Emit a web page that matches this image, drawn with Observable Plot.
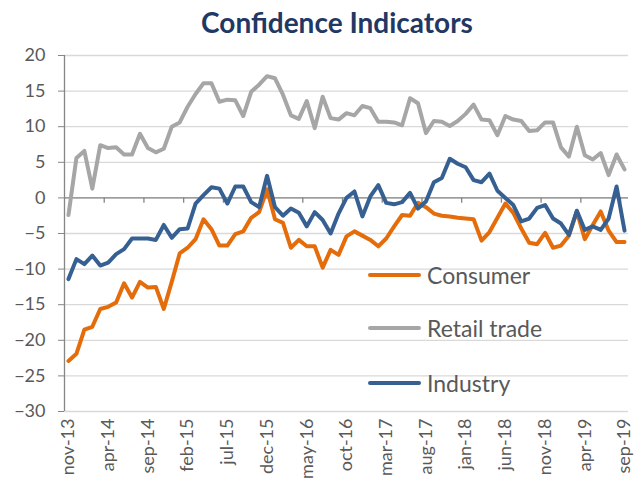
<!DOCTYPE html>
<html>
<head>
<meta charset="utf-8">
<script src="https://cdn.jsdelivr.net/npm/d3@7"></script>
<script src="https://cdn.jsdelivr.net/npm/@observablehq/plot@0.6"></script>
<style>
  html, body { margin: 0; padding: 0; background: #fff; }
  #wrap { position: relative; width: 641px; height: 491px; font-family: Lato, sans-serif; }
  #title { position: absolute; left: 33px; width: 608px; top: 0; height: 45px; line-height: 45px;
           text-align: center; font-weight: bold; font-size: 28px; color: #1F3864; }
  #chart { position: absolute; left: 0; top: 45px; }
  .lg { position: absolute; left: 368px; height: 30px; display: flex; align-items: center;
        font-size: 23px; color: #595959; white-space: nowrap; }
  .sw { width: 53px; height: 4px; border-radius: 2px; margin-right: 6px; }
</style>
</head>
<body>
<div id="wrap">
  <div id="title">Confidence Indicators</div>
  <div id="chart"></div>
  <div id="legend"></div>
</div>
<script>
// Monthly series, nov-13 .. sep-19 (71 months)
const consumer = [
  -22.9, -21.9, -18.5, -18.1, -15.6, -15.3, -14.7, -12.0, -14.0, -11.8,
  -12.6, -12.5, -15.6, -11.8, -7.8, -7.0, -5.8, -3.0, -4.4, -6.7,
  -6.7, -5.1, -4.7, -2.8, -2.0, 1.2, -3.0, -3.5, -7.0, -5.9,
  -6.8, -6.8, -9.8, -7.3, -8.0, -5.4, -4.7, -5.3, -5.9, -6.8,
  -5.7, -4.0, -2.4, -2.5, -0.7, -1.3, -2.2, -2.5, -2.6, -2.8,
  -2.9, -3.0, -6.0, -4.8, -2.8, -0.8, -2.1, -4.3, -6.3, -6.5,
  -4.9, -7.0, -6.7, -5.3, -1.9, -5.8, -3.8, -1.9, -4.6, -6.2,
  -6.2
];
const retailTrade = [
  -2.4, 5.6, 6.6, 1.3, 7.4, 7.0, 7.1, 6.1, 6.1, 9.0,
  7.0, 6.4, 6.9, 10.0, 10.6, 12.8, 14.6, 16.1, 16.1, 13.5,
  13.8, 13.7, 11.5, 14.9, 15.9, 17.1, 16.8, 14.5, 11.6, 11.1,
  13.6, 9.8, 14.2, 11.2, 11.0, 11.9, 11.6, 12.9, 12.6, 10.7,
  10.7, 10.6, 10.2, 14.0, 13.3, 9.1, 10.8, 10.7, 10.1, 10.8,
  11.8, 13.1, 11.0, 10.9, 8.8, 11.5, 11.0, 10.8, 9.4, 9.5,
  10.6, 10.6, 7.1, 5.8, 10.0, 6.0, 5.4, 6.3, 3.2, 6.1,
  4.0
];
const industry = [
  -11.4, -8.6, -9.3, -8.1, -9.5, -9.1, -7.9, -7.2, -5.7, -5.7,
  -5.7, -5.9, -3.8, -5.6, -4.4, -4.3, -0.8, 0.4, 1.5, 1.3,
  -0.8, 1.6, 1.6, -0.6, -1.3, 3.1, -1.3, -2.5, -1.5, -2.1,
  -4.0, -2.0, -3.1, -5.0, -2.2, 0.0, 0.9, -2.6, 0.2, 1.8,
  -0.7, -0.9, -0.6, 0.7, -1.5, -0.5, 2.2, 2.8, 5.5, 4.8,
  4.3, 2.5, 2.2, 3.4, 1.0, 0.0, -1.0, -3.3, -2.9, -1.4,
  -1.0, -2.9, -3.6, -5.2, -1.8, -4.5, -4.0, -4.5, -2.9, 1.6,
  -4.6
];
const xTickLabels = ["nov-13","apr-14","sep-14","feb-15","jul-15","dec-15","may-16","oct-16",
                     "mar-17","aug-17","jan-18","jun-18","nov-18","apr-19","sep-19"];
const yTicks = [20, 15, 10, 5, 0, -5, -10, -15, -20, -25, -30];
const seriesNames = ["Consumer", "Retail trade", "Industry"];
const seriesColors = ["#E46C0A", "#A6A6A6", "#376092"];

const n = consumer.length;
const labelIdx = xTickLabels.map((_, k) => k * 5);
const boundaryIdx = xTickLabels.slice(1).map((_, k) => k * 5 + 4.5);

const lineOpts = (c) => ({x: (d, i) => i, y: d => d, stroke: c, strokeWidth: 4,
                          strokeLinejoin: "round", strokeLinecap: "round"});

const chart = Plot.plot({
  width: 641,
  height: 446,
  marginTop: 10,
  marginBottom: 80,
  marginLeft: 64,
  marginRight: 13,
  style: {fontFamily: "Lato, sans-serif", color: "#595959", background: "white", overflow: "visible"},
  x: {domain: [-0.5, n - 0.5], axis: null},
  y: {domain: [-30, 20], axis: null},
  marks: [
    Plot.ruleY(yTicks, {stroke: "#D9D9D9", strokeWidth: 1.3}),
    Plot.ruleY([0], {stroke: "#868686", strokeWidth: 1.3}),
    Plot.ruleX([-0.5], {y1: -30, y2: 20, stroke: "#868686", strokeWidth: 1.3}),
    Plot.ruleX(boundaryIdx, {y1: 0, y2: -0.75, stroke: "#868686", strokeWidth: 1.3}),
    Plot.axisY({ticks: yTicks, tickSize: 6, tickFormat: () => "", stroke: "#868686", anchor: "left"}),
    Plot.axisY({ticks: yTicks, tickSize: 0, tickPadding: 19, fontSize: 18, anchor: "left", fill: "#595959"}),
    Plot.axisX({ticks: labelIdx, tickFormat: i => xTickLabels[i / 5], tickRotate: -90, tickSize: 0,
                tickPadding: 7, fontSize: 18, anchor: "bottom", fill: "#595959"}),
    Plot.line(consumer, lineOpts(seriesColors[0])),
    Plot.line(retailTrade, lineOpts(seriesColors[1])),
    Plot.line(industry, lineOpts(seriesColors[2]))
  ]
});
document.getElementById("chart").appendChild(chart);

// legend (overlaid inside plot area, as in the original)
const legendTops = [260, 313, 368];
const lg = document.getElementById("legend");
seriesNames.forEach((name, k) => {
  const row = document.createElement("div");
  row.className = "lg";
  row.style.top = legendTops[k] + "px";
  const sw = document.createElement("div");
  sw.className = "sw";
  sw.style.background = seriesColors[k];
  row.appendChild(sw);
  row.appendChild(document.createTextNode(name));
  lg.appendChild(row);
});
</script>
</body>
</html>
